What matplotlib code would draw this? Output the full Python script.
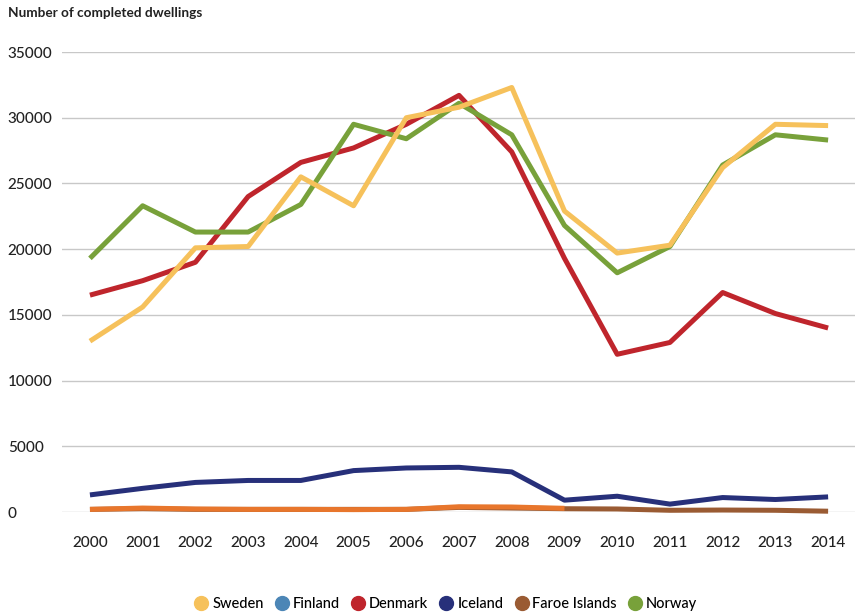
import matplotlib.pyplot as plt
from matplotlib.lines import Line2D

plt.rcParams['font.family'] = ['Lato', 'DejaVu Sans']

years = list(range(2000, 2015))

sweden = [13000, 15600, 20100, 20200, 25500, 23300, 30000, 30800, 32300, 22900,
          19700, 20300, 26200, 29500, 29400]
denmark = [16500, 17600, 19000, 24000, 26600, 27700, 29500, 31700, 27400, 19300,
           12000, 12900, 16700, 15100, 14000]
norway = [19300, 23300, 21300, 21300, 23400, 29500, 28400, 31100, 28700, 21800,
          18200, 20200, 26400, 28700, 28300]
iceland = [1300, 1800, 2250, 2400, 2400, 3150, 3350, 3400, 3050, 900,
           1200, 600, 1100, 950, 1150]
faroe = [200, 250, 200, 200, 200, 200, 200, 350, 300, 250,
         230, 130, 150, 130, 60]
# orange overlay on the first part of the low series
faroe_early_years = years[:10]
faroe_early = [200, 300, 230, 200, 200, 180, 200, 400, 380, 280]

colors = {
    'Sweden': '#F6C15B',
    'Finland': '#4C86B6',
    'Denmark': '#BF252C',
    'Iceland': '#27307A',
    'Faroe Islands': '#9A5B33',
    'Norway': '#78A13A',
}

fig = plt.figure(figsize=(8.59, 6.16), dpi=100)
W, H = 859, 616
ax = fig.add_axes([62 / W, 1 - 512 / H, (855 - 62) / W, (512 - 52) / H])

lw = 3.6
ax.plot(years, faroe, color=colors['Faroe Islands'], lw=lw, clip_on=False, zorder=3,
        solid_capstyle='butt')
ax.plot(faroe_early_years, faroe_early, color='#E8762C', lw=lw, clip_on=False, zorder=3,
        solid_capstyle='butt')
ax.plot(years, iceland, color=colors['Iceland'], lw=lw, zorder=3, solid_capstyle='butt')
ax.plot(years, denmark, color=colors['Denmark'], lw=lw, zorder=3, solid_capstyle='butt')
ax.plot(years, norway, color=colors['Norway'], lw=lw, zorder=4, solid_capstyle='butt')
ax.plot(years, sweden, color=colors['Sweden'], lw=lw, zorder=5, solid_capstyle='butt')

ax.set_xlim(1999.47, 2014.51)
ax.set_ylim(0, 35000)
ax.set_yticks(range(0, 35001, 5000))
ax.set_xticks(years)
ax.set_xticklabels([str(y) for y in years], fontsize=11, color='#222222',
                   fontweight='medium')
ax.grid(axis='y', color='#C8C8C8', lw=1)
ax.set_axisbelow(True)
for s in ax.spines.values():
    s.set_visible(False)
ax.tick_params(length=0)
ax.tick_params(axis='x', pad=17)
ax.tick_params(axis='y', pad=39)
for lbl in ax.get_yticklabels():
    lbl.set_horizontalalignment('left')
    lbl.set_fontsize(11)
    lbl.set_fontweight('medium')
    lbl.set_color('#222222')

fig.text(8 / W, 1 - 13 / H, 'Number of completed dwellings', fontsize=9.8,
         fontweight='bold', color='#222222', va='center', ha='left')

handles = [Line2D([], [], marker='o', ls='none', markersize=10, color=c, label=n)
           for n, c in colors.items()]
fig.legend(handles=handles, loc='center', bbox_to_anchor=(446 / W, 1 - 604 / H),
           ncol=6, frameon=False, fontsize=10.5, handletextpad=0.3, columnspacing=0.8,
           handlelength=0.9, prop={'weight': 'medium', 'size': 10.5})

fig.savefig('out.png', dpi=100)
